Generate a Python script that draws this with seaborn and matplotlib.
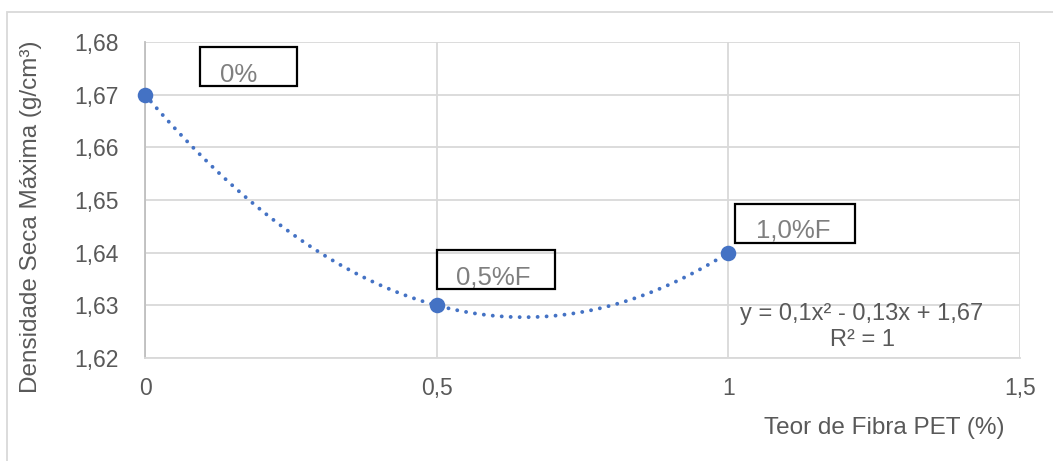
import numpy as np
import pandas as pd
import seaborn as sns
import matplotlib
matplotlib.use("Agg")
import matplotlib.pyplot as plt
from matplotlib.patches import Rectangle

# Data
teor = [0.0, 0.5, 1.0]
densidade = [1.67, 1.63, 1.64]
rotulos = ["0%", "0,5%F", "1,0%F"]
x_ticks = [0, 0.5, 1, 1.5]
y_ticks = [1.62, 1.63, 1.64, 1.65, 1.66, 1.67, 1.68]
equacao = "y = 0,1x² - 0,13x + 1,67\nR² = 1"

df = pd.DataFrame({"teor": teor, "dens": densidade})

sns.set_theme(style="white")
plt.rcParams["font.family"] = ["Liberation Sans", "DejaVu Sans"]

W, H = 1053, 461
fig = plt.figure(figsize=(W / 100, H / 100), dpi=100)
ax = fig.add_axes([145 / W, 1 - 358 / H, (1020 - 145) / W, (358 - 42) / H])

blue = "#4472C4"
grid = "#D9D9D9"
txt = "#595959"

sns.regplot(data=df, x="teor", y="dens", order=2, ci=None, scatter=False, ax=ax,
            line_kws=dict(color=blue, linestyle=(0, (0.01, 2.3)), linewidth=2.8,
                          dash_capstyle="round"))
sns.scatterplot(data=df, x="teor", y="dens", ax=ax, color=blue, s=125, edgecolor=blue,
                linewidth=0, zorder=5, clip_on=False)

ax.set_xlim(0, 1.5)
ax.set_ylim(1.62, 1.68)
ax.set_xticks(x_ticks)
ax.set_yticks(y_ticks)
ax.set_xticklabels([f"{v:g}".replace(".", ",") for v in x_ticks])
ax.set_yticklabels([f"{v:.2f}".replace(".", ",") for v in y_ticks])
ax.tick_params(axis="both", labelsize=16.5, colors=txt, length=0)
ax.tick_params(axis="x", pad=14)
ax.tick_params(axis="y", pad=19)
ax.grid(True, color=grid, linewidth=1.3)
for s in ["top", "right"]:
    ax.spines[s].set_visible(False)
ax.spines["left"].set_color("#BFBFBF")
ax.spines["left"].set_linewidth(1.3)
ax.spines["bottom"].set_color(grid)
ax.spines["bottom"].set_linewidth(1.3)
ax.set_axisbelow(True)

ax.set_xlabel("")
ax.set_ylabel("")
fig.text(31 / W, 1 - 217 / H, "Densidade Seca Máxima (g/cm³)", rotation=90,
         ha="center", va="center", fontsize=17.5, color=txt)
fig.text(884 / W, 1 - 428 / H, "Teor de Fibra PET (%)", ha="center", va="center",
         fontsize=17.5, color=txt)

# Label boxes (pixel positions of boxes)
boxes = [(200, 47, 297, 86), (437, 250, 555, 289), (735, 204, 855, 243)]
text_centers = [(239, 75), (493, 277), (793, 230)]
for lab, (x0, y0, x1, y1), (tx, ty) in zip(rotulos, boxes, text_centers):
    fig.patches.append(Rectangle((x0 / W, 1 - y1 / H), (x1 - x0) / W, (y1 - y0) / H,
                                 transform=fig.transFigure, fill=False,
                                 edgecolor="black", linewidth=1.6, zorder=10))
    fig.text(tx / W, 1 - ty / H, lab, ha="center", va="center", fontsize=18.5, color="#7F7F7F")

fig.text(862 / W, 1 - 327 / H, equacao, ha="center", va="center", fontsize=17,
         color=txt, linespacing=1.2)

# Outer chart border
fig.patches.append(Rectangle((7 / W, -0.1), 1.2, 1 - 12 / H + 0.1, transform=fig.transFigure,
                             fill=False, edgecolor="#D9D9D9", linewidth=1.3))

fig.savefig("out.png", dpi=100)
